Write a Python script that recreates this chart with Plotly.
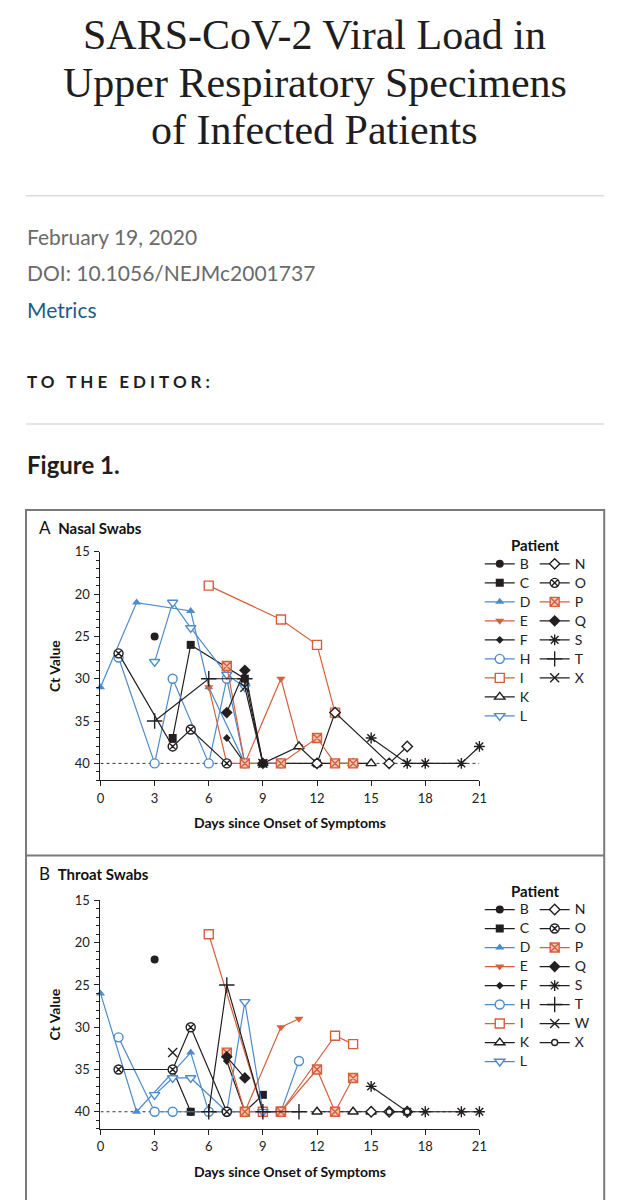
import plotly.graph_objects as go

W, H = 629, 1200

# ---------------- data ----------------
days_ticks = [0, 3, 6, 9, 12, 15, 18, 21]
ct_ticks = [15, 20, 25, 30, 35, 40]

nasal_left = ["B", "C", "D", "E", "F", "H", "I", "K", "L"]
nasal_right = ["N", "O", "P", "Q", "S", "T", "X"]
throat_left = ["B", "C", "D", "E", "F", "H", "I", "K", "L"]
throat_right = ["N", "O", "P", "Q", "S", "T", "W", "X"]

nasal_days = {
    "B": [3, None, 7],
    "C": [4, 5, 8, 9, 12],
    "D": [0, 2, 5, 6, 8],
    "E": [6, 7, 8, 10, 11],
    "F": [7, 8],
    "H": [1, 3, 4, 6, 7, 8, 10],
    "I": [6, 10, 12, 13],
    "K": [9, 11, 12, 14, 15],
    "L": [3, 4, 5, 7, 8],
    "N": [12, 13, 16, 17],
    "O": [1, 4, 5, 7],
    "P": [7, 8, 10, 12, 13, 14],
    "Q": [7, 8, 9],
    "S": [15, 17, 18, 20, 21],
    "T": [3, 6, 8],
    "X": [8, 9],
}
nasal_ct = {
    "B": [25, None, 40],
    "C": [37, 26, 30, 40, 40],
    "D": [31, 21, 22, 31, 40],
    "E": [31, 40, 40, 30, 38],
    "F": [37, 40],
    "H": [27.5, 40, 30, 40, 30, 40, 40],
    "I": [19, 23, 26, 34],
    "K": [40, 38, 40, 40, 40],
    "L": [28, 21, 24, 29.5, 31],
    "N": [40, 34, 40, 38],
    "O": [27, 38, 36, 40],
    "P": [28.5, 40, 40, 37, 40, 40],
    "Q": [34, 29, 40],
    "S": [37, 40, 40, 40, 38],
    "T": [35, 30, 30],
    "X": [31, 40],
}

throat_days = {
    "B": [3, None, 4, 5],
    "C": [5, 8, 9],
    "D": [0, 2, 5, 6],
    "E": [8, 10, 11],
    "F": [7, 8],
    "H": [1, 3, 4, 6, 7, 9, 10, 11],
    "I": [6, 9, 10, 13, 14],
    "K": [12, 14, 15],
    "L": [3, 4, 5, 7, 8, 9, 10],
    "N": [15, 16, 17],
    "O": [1, 4, 5, 7],
    "P": [7, 8, 10, 12, 13, 14],
    "Q": [7, 8],
    "S": [15, 17, 18, 20, 21],
    "T": [6, 7, 9, 11],
    "W": [4],
    "X": [16, 17],
}
throat_ct = {
    "B": [22, None, 35, 40],
    "C": [40, 40, 38],
    "D": [26, 40, 33, 40],
    "E": [40, 30, 29],
    "F": [34, 40],
    "H": [31.2, 40, 40, 40, 40, 40, 40, 34],
    "I": [19, 40, 40, 31, 32],
    "K": [40, 40, 40],
    "L": [38, 36, 36, 40, 27, 40, 40],
    "N": [40, 40, 40],
    "O": [35, 35, 30, 40],
    "P": [33, 40, 40, 35, 40, 36],
    "Q": [33.5, 36],
    "S": [37, 40, 40, 40, 40],
    "T": [40, 25, 40, 40],
    "W": [33],
    "X": [40, 40],
}

# ---------------- styles ----------------
BLACK = "#231f20"
BLUE = "#4f8bc9"
RED = "#d4603c"

STYLE = {
    "B": dict(color=BLACK, symbol="circle", size=8, fill=BLACK),
    "C": dict(color=BLACK, symbol="square", size=8, fill=BLACK),
    "D": dict(color=BLUE, symbol="triangle-up", size=8, fill=BLUE),
    "E": dict(color=RED, symbol="triangle-down", size=8, fill=RED),
    "F": dict(color=BLACK, symbol="diamond", size=6, fill=BLACK),
    "H": dict(color=BLUE, symbol="circle", size=9, fill="white"),
    "I": dict(color=RED, symbol="square", size=9, fill="white"),
    "K": dict(color=BLACK, symbol="triangle-up", size=9, fill="white"),
    "L": dict(color=BLUE, symbol="triangle-down", size=9, fill="white"),
    "N": dict(color=BLACK, symbol="diamond", size=8, fill="white"),
    "O": dict(color=BLACK, symbol="circle-x", size=9, fill="white"),
    "P": dict(color=RED, symbol="square-x", size=9, fill="#f2c4b4"),
    "Q": dict(color=BLACK, symbol="diamond", size=9, fill=BLACK),
    "S": dict(color=BLACK, symbol="asterisk-open", size=9, fill=BLACK),
    "T": dict(color=BLACK, symbol="cross-thin-open", size=11, fill=BLACK),
    "W": dict(color=BLACK, symbol="x-thin-open", size=9, fill=BLACK),
    "X": dict(color=BLACK, symbol="x-thin-open", size=9, fill=BLACK),
}
STYLE_THROAT_X = dict(color=BLACK, symbol="circle", size=6, fill="white")

# the photographed page is slightly offset/scaled; map target pixels to layout pixels
SX, AX = 0.984, 2.9
SY, AY = 0.9923, 8.5


def px(x):
    return ((x - AX) / SX) / W


def py(y):
    return 1 - ((y - AY) / SY) / H


fig = go.Figure()


def add_panel(days, cts, left, right, xa, ya, leg_l, leg_r, xstyle=None):
    for group, leg in ((left, leg_l), (right, leg_r)):
        for p in group:
            st = STYLE[p]
            if p == "X" and xstyle is not None:
                st = xstyle
            open_sym = st["symbol"].endswith("-open")
            marker = dict(symbol=st["symbol"], size=st["size"],
                          color=st["color"] if open_sym else st["fill"],
                          line=dict(color=st["color"],
                                    width=1.4 if (open_sym or st["fill"] != st["color"]) else 0))
            fig.add_trace(go.Scatter(
                x=days[p], y=cts[p], name=f'<span style="font-size:14px">{p}</span>',
                mode="lines+markers",
                line=dict(color=st["color"], width=1.2),
                marker=marker, xaxis=xa, yaxis=ya, legend=leg,
                cliponaxis=False, connectgaps=False, hoverinfo="skip",
            ))


add_panel(nasal_days, nasal_ct, nasal_left, nasal_right, "x", "y", "legend", "legend2")
add_panel(throat_days, throat_ct, throat_left, throat_right, "x2", "y2", "legend3", "legend4",
          xstyle=STYLE_THROAT_X)

# ---------------- axes ----------------
x_dom = [px(99.7), px(479.8)]
axis_font = dict(family="Lato", size=13, color="#222")
title_font = dict(family="Lato", size=14, color="#111")

xcommon = dict(range=[0, 21], tickvals=days_ticks, ticks="outside", ticklen=5,
               showline=True, linecolor=BLACK, linewidth=1, showgrid=False,
               zeroline=False, tickfont=axis_font, tickcolor=BLACK,
               ticklabelstandoff=1,
               title=dict(text="<b>Days since Onset of Symptoms</b>", font=title_font, standoff=13))
ycommon = dict(range=[42, 15], tickvals=ct_ticks, ticks="outside", ticklen=5,
               showline=True, linecolor=BLACK, linewidth=1, showgrid=False,
               zeroline=False, tickfont=axis_font, tickcolor=BLACK,
               minor=dict(dtick=1, tick0=15, ticks="outside", ticklen=3, tickcolor=BLACK, showgrid=False),
               ticklabelstandoff=2,
               title=dict(text="<b>Ct Value</b>", font=title_font, standoff=10))

fig.update_layout(
    xaxis=dict(domain=x_dom, anchor="y", **xcommon),
    yaxis=dict(domain=[py(780), py(551.7)], anchor="x", **ycommon),
    xaxis2=dict(domain=x_dom, anchor="y2", **xcommon),
    yaxis2=dict(domain=[py(1128), py(900)], anchor="x2", **ycommon),
)

legend_common = dict(xanchor="left", yanchor="top", bgcolor="rgba(0,0,0,0)",
                     font=dict(family="Lato", size=12, color="#222"),
                     itemclick=False, itemdoubleclick=False, traceorder="normal",
                     itemwidth=30, borderwidth=0)
fig.update_layout(
    legend=dict(x=485 / W, y=1 - 545 / H, **legend_common),
    legend2=dict(x=541 / W, y=1 - 545 / H, **legend_common),
    legend3=dict(x=485 / W, y=1 - 893 / H, **legend_common),
    legend4=dict(x=541 / W, y=1 - 893 / H, **legend_common),
)

# ---------------- shapes ----------------
shapes = [
    dict(type="line", xref="paper", yref="paper", x0=px(25), x1=px(605), y0=py(196), y1=py(196),
         line=dict(color="#dcdcdc", width=1.5)),
    dict(type="line", xref="paper", yref="paper", x0=px(25), x1=px(605), y0=py(424), y1=py(424),
         line=dict(color="#dcdcdc", width=1.5)),
    dict(type="rect", xref="paper", yref="paper", x0=px(25), x1=px(605), y0=py(1215), y1=py(510),
         line=dict(color="#7a7a7a", width=2)),
    dict(type="line", xref="paper", yref="paper", x0=px(25), x1=px(605), y0=py(855), y1=py(855),
         line=dict(color="#7a7a7a", width=2)),
    dict(type="line", xref="x", yref="y", x0=0, x1=21, y0=40, y1=40, layer="below",
         line=dict(color="#333", width=1, dash="dot")),
    dict(type="line", xref="x2", yref="y2", x0=0, x1=21, y0=40, y1=40, layer="below",
         line=dict(color="#333", width=1, dash="dot")),
]
fig.update_layout(shapes=shapes)

# ---------------- text ----------------
ann = []
title_lines = ["SARS-CoV-2 Viral Load in", "Upper Respiratory Specimens", "of Infected Patients"]
for line, yy in zip(title_lines, [35, 83, 130]):
    ann.append(dict(text=line, x=px(314.5), y=py(yy), xref="paper", yref="paper", xanchor="center",
                    yanchor="middle", showarrow=False,
                    font=dict(family="Liberation Serif", size=42, color="#1e1e1e")))

meta = [("February 19, 2020", 237, "#6a6a6a"), ("DOI: 10.1056/NEJMc2001737", 273, "#6a6a6a"),
        ("Metrics", 310, "#1d5b86")]
for t, yy, c in meta:
    ann.append(dict(text=t, x=px(24), y=py(yy), xref="paper", yref="paper", xanchor="left",
                    yanchor="middle", showarrow=False, font=dict(family="Lato", size=21, color=c)))
ann.append(dict(text='<span style="letter-spacing:4px"><b>TO THE EDITOR:</b></span>',
                x=px(24), y=py(382), xref="paper", yref="paper",
                xanchor="left", yanchor="middle", showarrow=False,
                font=dict(family="Lato", size=17, color="#1e1e1e")))
ann.append(dict(text="<b>Figure 1.</b>", x=px(24), y=py(465), xref="paper", yref="paper",
                xanchor="left", yanchor="middle", showarrow=False,
                font=dict(family="Lato", size=24, color="#1e1e1e")))
for lab, name, yy in (("A", "Nasal Swabs", 527), ("B", "Throat Swabs", 873)):
    ann.append(dict(text=f'<span style="font-size:17px">{lab}</span>  <b>{name}</b>',
                    x=px(36), y=py(yy), xref="paper", yref="paper",
                    xanchor="left", yanchor="middle", showarrow=False,
                    font=dict(family="Lato", size=15, color="#111")))
for yy in (545, 891):
    ann.append(dict(text="<b>Patient</b>", x=px(536), y=py(yy), xref="paper", yref="paper",
                    xanchor="center", yanchor="middle", showarrow=False,
                    font=dict(family="Lato", size=15, color="#111")))
fig.update_layout(annotations=ann)

fig.update_layout(width=W, height=H, autosize=False, margin=dict(l=0, r=0, t=0, b=0),
                  paper_bgcolor="white", plot_bgcolor="white", showlegend=True)

fig.write_html("out.html", config={"displayModeBar": False},
               post_script="document.body.style.margin='0px';document.body.style.overflow='hidden';")
